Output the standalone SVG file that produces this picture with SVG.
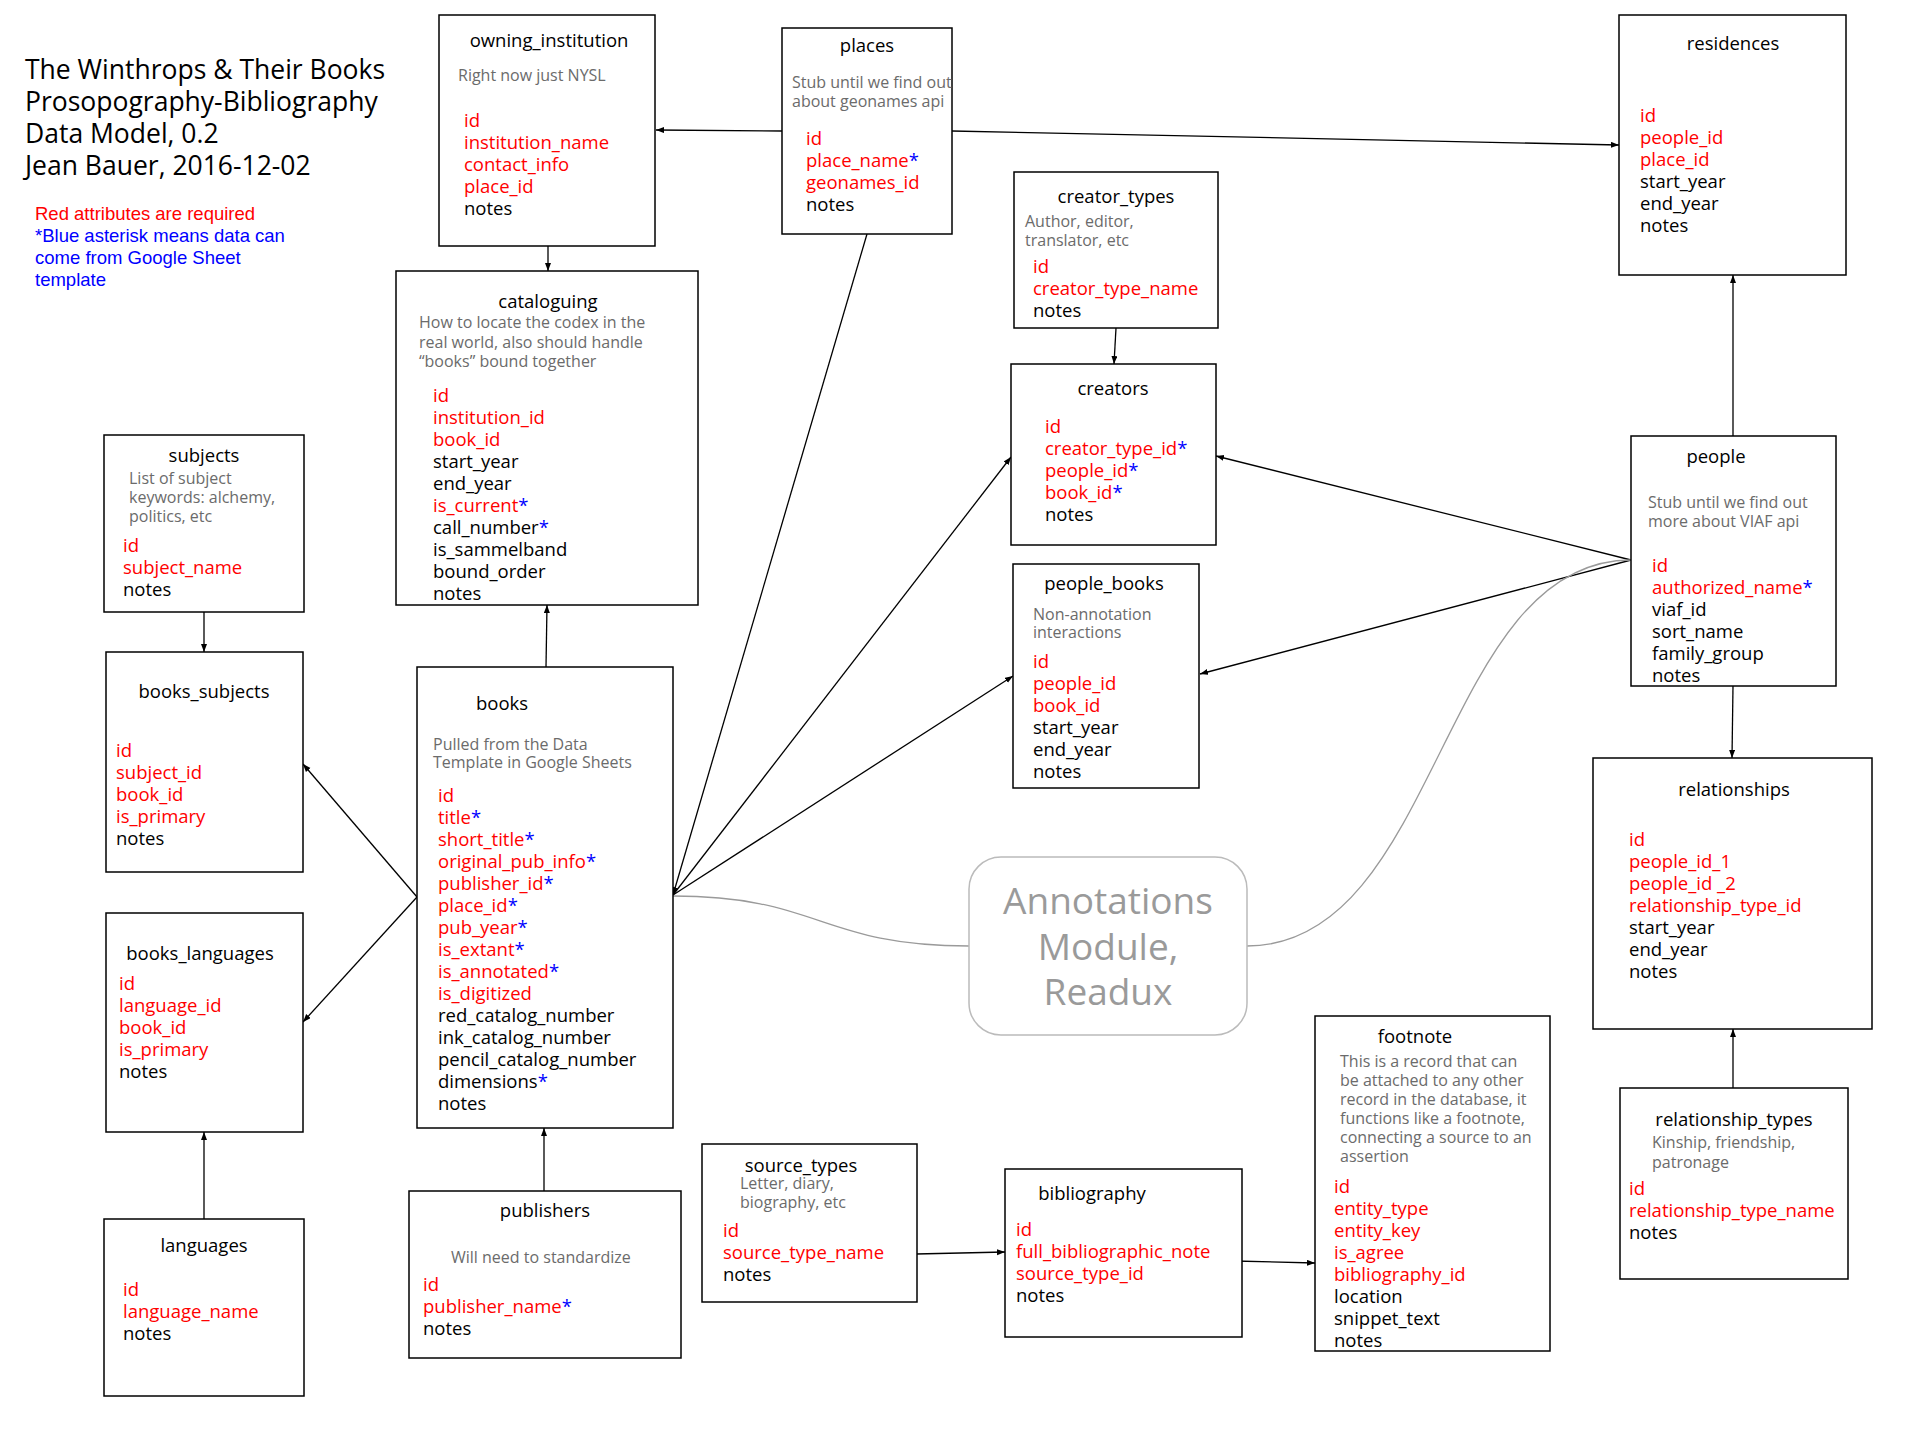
<svg xmlns="http://www.w3.org/2000/svg" width="1920" height="1440" viewBox="0 0 1920 1440">
<style>
text{font-family:"Open Sans","DejaVu Sans",sans-serif;font-size:18.5px;fill:#000}
.b{fill:#fff;stroke:#000;stroke-width:1.5}
.ti{text-anchor:middle}
.s{font-size:16px;fill:#6b6b6b}
.r{fill:#f00}
.a{fill:#00f}
.c{fill:none;stroke:#000;stroke-width:1.3;marker-end:url(#ah)}
.g{fill:none;stroke:#9a9a9a;stroke-width:1.3}
.h{font-size:26.5px}
.l{font-family:"Liberation Sans",Arial,sans-serif;font-size:18.5px}
.an{font-size:37px;fill:#9a9a9a;text-anchor:middle}
</style>
<defs>
<marker id="ah" markerWidth="9" markerHeight="7" refX="8" refY="3" orient="auto" markerUnits="userSpaceOnUse">
<path d="M0,0 L8,3 L0,6 z" fill="#000"/>
</marker>
</defs>
<rect width="1920" height="1440" fill="#fff"/>

<g id="header">
<text class="h" x="25" y="79"><tspan>The Winthrops &amp; Their Books</tspan><tspan x="25" dy="32">Prosopography-Bibliography</tspan><tspan x="25" dy="32">Data Model, 0.2</tspan><tspan x="25" dy="32">Jean Bauer, 2016-12-02</tspan></text>
<text class="l" x="35" y="220"><tspan class="r">Red attributes are required</tspan><tspan class="a" x="35" dy="22">*Blue asterisk means data can</tspan><tspan class="a" x="35" dy="22">come from Google Sheet</tspan><tspan class="a" x="35" dy="22">template</tspan></text>
</g>

<g id="connectors">
<path class="c" d="M782,131 L656,130"/>
<path class="c" d="M952,131 L1619,145"/>
<path class="c" d="M548,246 L548,271"/>
<path class="c" d="M546,667 L547,605"/>
<path class="c" d="M867,234 L673,895"/>
<path class="c" d="M673,895 L1011,457"/>
<path class="c" d="M673,895 L1013,676"/>
<path class="c" d="M1116,328 L1114,364"/>
<path class="c" d="M1631,560 L1216,456"/>
<path class="c" d="M1631,560 L1200,674"/>
<path class="c" d="M1733,436 L1733,275"/>
<path class="c" d="M1733,686 L1732,758"/>
<path class="c" d="M1733,1088 L1733,1029"/>
<path class="c" d="M204,612 L204,652"/>
<path class="c" d="M417,897 L303,764"/>
<path class="c" d="M417,897 L303,1022"/>
<path class="c" d="M204,1219 L204,1132"/>
<path class="c" d="M544,1191 L544,1128"/>
<path class="c" d="M916,1254 L1005,1252"/>
<path class="c" d="M1234,1261 L1315,1263"/>
<path class="g" d="M673,896 C820,896 820,946 969,946"/>
<path class="g" d="M1247,946 C1440,946 1440,560 1631,560"/>
</g>

<g id="owning_institution">
<rect class="b" x="439" y="15" width="216" height="231"/>
<text class="ti" x="549" y="47">owning_institution</text>
<text class="s" x="458" y="81">Right now just NYSL</text>
<text x="464" y="127"><tspan class="r">id</tspan><tspan class="r" x="464" dy="22">institution_name</tspan><tspan class="r" x="464" dy="22">contact_info</tspan><tspan class="r" x="464" dy="22">place_id</tspan><tspan x="464" dy="22">notes</tspan></text>
</g>

<g id="places">
<rect class="b" x="782" y="28" width="170" height="206"/>
<text class="ti" x="867" y="52">places</text>
<text class="s" x="792" y="88"><tspan>Stub until we find out</tspan><tspan x="792" dy="19">about geonames api</tspan></text>
<text x="806" y="145"><tspan class="r">id</tspan><tspan class="r" x="806" dy="22">place_name</tspan><tspan class="a">*</tspan><tspan class="r" x="806" dy="22">geonames_id</tspan><tspan x="806" dy="22">notes</tspan></text>
</g>

<g id="residences">
<rect class="b" x="1619" y="15" width="227" height="260"/>
<text class="ti" x="1733" y="50">residences</text>
<text x="1640" y="122"><tspan class="r">id</tspan><tspan class="r" x="1640" dy="22">people_id</tspan><tspan class="r" x="1640" dy="22">place_id</tspan><tspan x="1640" dy="22">start_year</tspan><tspan x="1640" dy="22">end_year</tspan><tspan x="1640" dy="22">notes</tspan></text>
</g>

<g id="creator_types">
<rect class="b" x="1014" y="172" width="204" height="156"/>
<text class="ti" x="1116" y="203">creator_types</text>
<text class="s" x="1025" y="227"><tspan>Author, editor,</tspan><tspan x="1025" dy="19">translator, etc</tspan></text>
<text x="1033" y="273"><tspan class="r">id</tspan><tspan class="r" x="1033" dy="22">creator_type_name</tspan><tspan x="1033" dy="22">notes</tspan></text>
</g>

<g id="creators">
<rect class="b" x="1011" y="364" width="205" height="181"/>
<text class="ti" x="1113" y="395">creators</text>
<text x="1045" y="433"><tspan class="r">id</tspan><tspan class="r" x="1045" dy="22">creator_type_id</tspan><tspan class="a">*</tspan><tspan class="r" x="1045" dy="22">people_id</tspan><tspan class="a">*</tspan><tspan class="r" x="1045" dy="22">book_id</tspan><tspan class="a">*</tspan><tspan x="1045" dy="22">notes</tspan></text>
</g>

<g id="people_books">
<rect class="b" x="1013" y="564" width="186" height="224"/>
<text class="ti" x="1104" y="590">people_books</text>
<text class="s" x="1033" y="620"><tspan>Non-annotation</tspan><tspan x="1033" dy="18">interactions</tspan></text>
<text x="1033" y="668"><tspan class="r">id</tspan><tspan class="r" x="1033" dy="22">people_id</tspan><tspan class="r" x="1033" dy="22">book_id</tspan><tspan x="1033" dy="22">start_year</tspan><tspan x="1033" dy="22">end_year</tspan><tspan x="1033" dy="22">notes</tspan></text>
</g>

<g id="people">
<rect class="b" x="1631" y="436" width="205" height="250"/>
<text class="ti" x="1716" y="463">people</text>
<text class="s" x="1648" y="508"><tspan>Stub until we find out</tspan><tspan x="1648" dy="19">more about VIAF api</tspan></text>
<text x="1652" y="572"><tspan class="r">id</tspan><tspan class="r" x="1652" dy="22">authorized_name</tspan><tspan class="a">*</tspan><tspan x="1652" dy="22">viaf_id</tspan><tspan x="1652" dy="22">sort_name</tspan><tspan x="1652" dy="22">family_group</tspan><tspan x="1652" dy="22">notes</tspan></text>
</g>

<g id="relationships">
<rect class="b" x="1593" y="758" width="279" height="271"/>
<text class="ti" x="1734" y="796">relationships</text>
<text x="1629" y="846"><tspan class="r">id</tspan><tspan class="r" x="1629" dy="22">people_id_1</tspan><tspan class="r" x="1629" dy="22">people_id _2</tspan><tspan class="r" x="1629" dy="22">relationship_type_id</tspan><tspan x="1629" dy="22">start_year</tspan><tspan x="1629" dy="22">end_year</tspan><tspan x="1629" dy="22">notes</tspan></text>
</g>

<g id="relationship_types">
<rect class="b" x="1620" y="1088" width="228" height="191"/>
<text class="ti" x="1734" y="1126">relationship_types</text>
<text class="s" x="1652" y="1148"><tspan>Kinship, friendship,</tspan><tspan x="1652" dy="20">patronage</tspan></text>
<text x="1629" y="1195"><tspan class="r">id</tspan><tspan class="r" x="1629" dy="22">relationship_type_name</tspan><tspan x="1629" dy="22">notes</tspan></text>
</g>

<g id="footnote">
<rect class="b" x="1315" y="1016" width="235" height="335"/>
<text class="ti" x="1415" y="1043">footnote</text>
<text class="s" x="1340" y="1067"><tspan>This is a record that can</tspan><tspan x="1340" dy="19">be attached to any other</tspan><tspan x="1340" dy="19">record in the database, it</tspan><tspan x="1340" dy="19">functions like a footnote,</tspan><tspan x="1340" dy="19">connecting a source to an</tspan><tspan x="1340" dy="19">assertion</tspan></text>
<text x="1334" y="1193"><tspan class="r">id</tspan><tspan class="r" x="1334" dy="22">entity_type</tspan><tspan class="r" x="1334" dy="22">entity_key</tspan><tspan class="r" x="1334" dy="22">is_agree</tspan><tspan class="r" x="1334" dy="22">bibliography_id</tspan><tspan x="1334" dy="22">location</tspan><tspan x="1334" dy="22">snippet_text</tspan><tspan x="1334" dy="22">notes</tspan></text>
</g>

<g id="bibliography">
<rect class="b" x="1005" y="1169" width="237" height="168"/>
<text class="ti" x="1092" y="1200">bibliography</text>
<text x="1016" y="1236"><tspan class="r">id</tspan><tspan class="r" x="1016" dy="22">full_bibliographic_note</tspan><tspan class="r" x="1016" dy="22">source_type_id</tspan><tspan x="1016" dy="22">notes</tspan></text>
</g>

<g id="source_types">
<rect class="b" x="702" y="1144" width="215" height="158"/>
<text x="801" y="1172"><tspan class="ti">source_types</tspan><tspan class="s" x="740" dy="17">Letter, diary,</tspan><tspan class="s" x="740" dy="19">biography, etc</tspan></text>
<text x="723" y="1237"><tspan class="r">id</tspan><tspan class="r" x="723" dy="22">source_type_name</tspan><tspan x="723" dy="22">notes</tspan></text>
</g>

<g id="publishers">
<rect class="b" x="409" y="1191" width="272" height="167"/>
<text class="ti" x="545" y="1217">publishers</text>
<text class="s" x="451" y="1263">Will need to standardize</text>
<text x="423" y="1291"><tspan class="r">id</tspan><tspan class="r" x="423" dy="22">publisher_name</tspan><tspan class="a">*</tspan><tspan x="423" dy="22">notes</tspan></text>
</g>

<g id="books">
<rect class="b" x="417" y="667" width="256" height="461"/>
<text class="ti" x="502" y="710">books</text>
<text class="s" x="433" y="750"><tspan>Pulled from the Data</tspan><tspan x="433" dy="18">Template in Google Sheets</tspan></text>
<text x="438" y="802"><tspan class="r">id</tspan><tspan class="r" x="438" dy="22">title</tspan><tspan class="a">*</tspan><tspan class="r" x="438" dy="22">short_title</tspan><tspan class="a">*</tspan><tspan class="r" x="438" dy="22">original_pub_info</tspan><tspan class="a">*</tspan><tspan class="r" x="438" dy="22">publisher_id</tspan><tspan class="a">*</tspan><tspan class="r" x="438" dy="22">place_id</tspan><tspan class="a">*</tspan><tspan class="r" x="438" dy="22">pub_year</tspan><tspan class="a">*</tspan><tspan class="r" x="438" dy="22">is_extant</tspan><tspan class="a">*</tspan><tspan class="r" x="438" dy="22">is_annotated</tspan><tspan class="a">*</tspan><tspan class="r" x="438" dy="22">is_digitized</tspan><tspan x="438" dy="22">red_catalog_number</tspan><tspan x="438" dy="22">ink_catalog_number</tspan><tspan x="438" dy="22">pencil_catalog_number</tspan><tspan x="438" dy="22">dimensions</tspan><tspan class="a">*</tspan><tspan x="438" dy="22">notes</tspan></text>
</g>

<g id="cataloguing">
<rect class="b" x="396" y="271" width="302" height="334"/>
<text class="ti" x="548" y="308">cataloguing</text>
<text class="s" x="419" y="328"><tspan>How to locate the codex in the</tspan><tspan x="419" dy="19.5">real world, also should handle</tspan><tspan x="419" dy="19.5">“books” bound together</tspan></text>
<text x="433" y="402"><tspan class="r">id</tspan><tspan class="r" x="433" dy="22">institution_id</tspan><tspan class="r" x="433" dy="22">book_id</tspan><tspan x="433" dy="22">start_year</tspan><tspan x="433" dy="22">end_year</tspan><tspan class="r" x="433" dy="22">is_current</tspan><tspan class="a">*</tspan><tspan x="433" dy="22">call_number</tspan><tspan class="a">*</tspan><tspan x="433" dy="22">is_sammelband</tspan><tspan x="433" dy="22">bound_order</tspan><tspan x="433" dy="22">notes</tspan></text>
</g>

<g id="subjects">
<rect class="b" x="104" y="435" width="200" height="177"/>
<text class="ti" x="204" y="462">subjects</text>
<text class="s" x="129" y="484"><tspan>List of subject</tspan><tspan x="129" dy="19">keywords: alchemy,</tspan><tspan x="129" dy="19">politics, etc</tspan></text>
<text x="123" y="552"><tspan class="r">id</tspan><tspan class="r" x="123" dy="22">subject_name</tspan><tspan x="123" dy="22">notes</tspan></text>
</g>

<g id="books_subjects">
<rect class="b" x="106" y="652" width="197" height="220"/>
<text class="ti" x="204" y="698">books_subjects</text>
<text x="116" y="757"><tspan class="r">id</tspan><tspan class="r" x="116" dy="22">subject_id</tspan><tspan class="r" x="116" dy="22">book_id</tspan><tspan class="r" x="116" dy="22">is_primary</tspan><tspan x="116" dy="22">notes</tspan></text>
</g>

<g id="books_languages">
<rect class="b" x="106" y="913" width="197" height="219"/>
<text class="ti" x="200" y="960">books_languages</text>
<text x="119" y="990"><tspan class="r">id</tspan><tspan class="r" x="119" dy="22">language_id</tspan><tspan class="r" x="119" dy="22">book_id</tspan><tspan class="r" x="119" dy="22">is_primary</tspan><tspan x="119" dy="22">notes</tspan></text>
</g>

<g id="languages">
<rect class="b" x="104" y="1219" width="200" height="177"/>
<text class="ti" x="204" y="1252">languages</text>
<text x="123" y="1296"><tspan class="r">id</tspan><tspan class="r" x="123" dy="22">language_name</tspan><tspan x="123" dy="22">notes</tspan></text>
</g>

<g id="annotations_module">
<rect x="969" y="857" width="278" height="178" rx="32" fill="#fff" stroke="#bbb" stroke-width="1.5"/>
<text class="an" x="1108" y="914"><tspan>Annotations</tspan><tspan x="1108" dy="46">Module,</tspan><tspan x="1108" dy="45">Readux</tspan></text>
</g>
</svg>
